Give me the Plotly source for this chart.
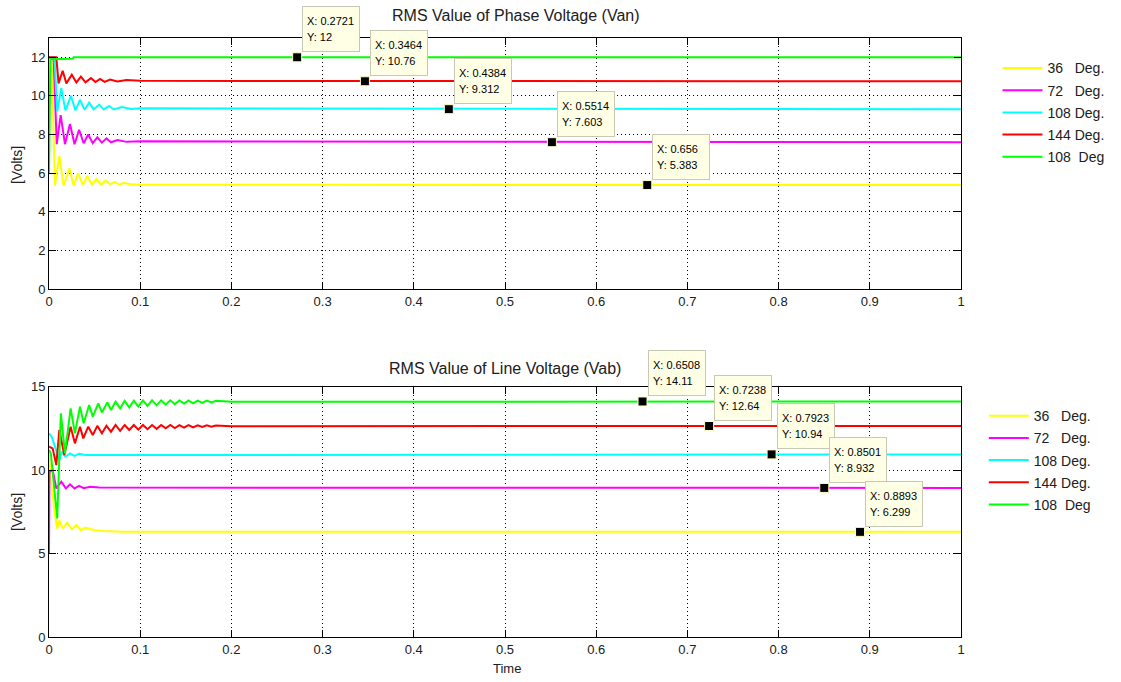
import plotly.graph_objects as go

FONT = "Liberation Sans, Arial, sans-serif"

# ---------------- data ----------------
series_names = ["36\u00a0\u00a0\u00a0Deg.", "72\u00a0\u00a0\u00a0Deg.", "108 Deg.", "144 Deg.", "108\u00a0\u00a0Deg"]
series_colors = ["#ffff00", "#ff00ff", "#00ffff", "#ff0000", "#00ff00"]

# Top: RMS phase voltage (Van)
van_t_36 = [0.0, 0.003, 0.0065, 0.0113, 0.016, 0.0223, 0.027, 0.032, 0.037, 0.042, 0.047, 0.052, 0.057, 0.062, 0.067, 0.072, 0.077, 0.082, 0.09, 0.1, 1.0]
van_v_36 = [12.0, 12.0, 5.35, 6.9, 5.35, 6.25, 5.35, 6.0, 5.38, 5.85, 5.4, 5.7, 5.4, 5.62, 5.42, 5.55, 5.4, 5.5, 5.42, 5.4, 5.383]
van_t_72 = [0.0, 0.005, 0.0085, 0.0128, 0.0175, 0.023, 0.028, 0.033, 0.038, 0.043, 0.048, 0.053, 0.058, 0.063, 0.068, 0.075, 0.085, 0.1, 1.0]
van_v_72 = [12.0, 12.0, 7.5, 9.0, 7.5, 8.55, 7.5, 8.25, 7.55, 8.0, 7.55, 7.85, 7.58, 7.8, 7.6, 7.72, 7.62, 7.65, 7.603]
van_t_108 = [0.0, 0.006, 0.009, 0.0135, 0.018, 0.024, 0.029, 0.034, 0.039, 0.044, 0.049, 0.055, 0.06, 0.066, 0.071, 0.08, 0.09, 0.1, 1.0]
van_v_108 = [12.0, 12.0, 9.2, 10.4, 9.25, 10.0, 9.25, 9.8, 9.28, 9.65, 9.3, 9.55, 9.3, 9.48, 9.3, 9.42, 9.32, 9.36, 9.312]
van_t_144 = [0.0, 0.008, 0.0105, 0.015, 0.019, 0.025, 0.03, 0.035, 0.04, 0.046, 0.051, 0.056, 0.061, 0.067, 0.075, 0.085, 0.1, 1.0]
van_v_144 = [12.0, 12.0, 10.65, 11.3, 10.65, 11.1, 10.7, 11.0, 10.7, 10.92, 10.72, 10.88, 10.73, 10.85, 10.75, 10.82, 10.78, 10.76]
van_t_108b = [0.0, 0.0015, 0.026, 0.027, 1.0]
van_v_108b = [5.95, 11.9, 11.92, 12.0, 12.0]

# Bottom: RMS line voltage (Vab)
vab_t_36 = [0.0, 0.002, 0.006, 0.009, 0.0113, 0.015, 0.02, 0.025, 0.03, 0.035, 0.04, 0.05, 0.06, 0.08, 1.0]
vab_v_36 = [11.0, 9.5, 7.5, 6.5, 7.0, 6.5, 6.85, 6.45, 6.7, 6.4, 6.55, 6.4, 6.35, 6.3, 6.299]
vab_t_72 = [0.0, 0.0005, 0.004, 0.008, 0.0135, 0.0185, 0.023, 0.028, 0.033, 0.038, 0.045, 0.055, 1.0]
vab_v_72 = [5.0, 9.9, 10.0, 8.9, 9.3, 8.9, 9.15, 8.9, 9.05, 8.92, 9.0, 8.95, 8.932]
vab_t_108 = [0.0, 0.003, 0.0113, 0.0139, 0.018, 0.023, 0.028, 0.033, 0.04, 1.0]
vab_v_108 = [12.2, 12.0, 10.6, 11.1, 10.8, 11.0, 10.85, 10.98, 10.9, 10.94]
vab_t_144 = [0.0, 0.004, 0.008, 0.0113, 0.0168, 0.0237, 0.0284, 0.034, 0.0376, 0.043, 0.048, 0.053, 0.058, 0.063, 0.068, 0.073, 0.078, 0.083, 0.088, 0.093, 0.098, 0.103, 0.108, 0.113, 0.118, 0.123, 0.128, 0.133, 0.138, 0.143, 0.148, 0.153, 0.158, 0.163, 0.168, 0.173, 0.178, 0.183, 0.2, 1.0]
vab_v_144 = [11.4, 11.3, 10.3, 12.4, 10.9, 12.6, 11.6, 12.6, 11.9, 12.6, 12.1, 12.65, 12.2, 12.65, 12.3, 12.7, 12.35, 12.7, 12.4, 12.7, 12.42, 12.7, 12.45, 12.7, 12.47, 12.7, 12.5, 12.7, 12.52, 12.69, 12.54, 12.69, 12.56, 12.68, 12.58, 12.68, 12.6, 12.67, 12.63, 12.64]
vab_t_108b = [0.0, 0.002, 0.009, 0.013, 0.0175, 0.0237, 0.0284, 0.034, 0.038, 0.044, 0.048, 0.054, 0.058, 0.064, 0.068, 0.073, 0.078, 0.083, 0.088, 0.093, 0.098, 0.103, 0.108, 0.113, 0.118, 0.123, 0.128, 0.133, 0.138, 0.143, 0.148, 0.153, 0.158, 0.163, 0.168, 0.173, 0.178, 0.183, 0.2, 1.0]
vab_v_108b = [11.2, 11.0, 7.1, 13.4, 11.0, 13.7, 12.2, 13.8, 12.8, 13.9, 13.2, 14.0, 13.45, 14.05, 13.6, 14.1, 13.7, 14.15, 13.75, 14.15, 13.8, 14.18, 13.85, 14.18, 13.88, 14.18, 13.92, 14.18, 13.95, 14.17, 13.98, 14.17, 14.0, 14.16, 14.03, 14.16, 14.05, 14.15, 14.09, 14.11]

van_t = [van_t_36, van_t_72, van_t_108, van_t_144, van_t_108b]
van_v = [van_v_36, van_v_72, van_v_108, van_v_144, van_v_108b]
vab_t = [vab_t_36, vab_t_72, vab_t_108, vab_t_144, vab_t_108b]
vab_v = [vab_v_36, vab_v_72, vab_v_108, vab_v_144, vab_v_108b]

# data tips
tip_top_x = [0.2721, 0.3464, 0.4384, 0.5514, 0.656]
tip_top_y = [12, 10.76, 9.312, 7.603, 5.383]
tip_top_xlabel = ["0.2721", "0.3464", "0.4384", "0.5514", "0.656"]
tip_top_ylabel = ["12", "10.76", "9.312", "7.603", "5.383"]
tip_bot_x = [0.6508, 0.7238, 0.7923, 0.8501, 0.8893]
tip_bot_y = [14.11, 12.64, 10.94, 8.932, 6.299]
tip_bot_xlabel = ["0.6508", "0.7238", "0.7923", "0.8501", "0.8893"]
tip_bot_ylabel = ["14.11", "12.64", "10.94", "8.932", "6.299"]

x_tick_vals = [0, 0.1, 0.2, 0.3, 0.4, 0.5, 0.6, 0.7, 0.8, 0.9, 1]
x_tick_text = ["0", "0.1", "0.2", "0.3", "0.4", "0.5", "0.6", "0.7", "0.8", "0.9", "1"]
top_y_ticks = [0, 2, 4, 6, 8, 10, 12]
bot_y_ticks = [0, 5, 10, 15]

# ---------------- figure ----------------
fig = go.Figure()

for i in range(5):
    fig.add_trace(go.Scatter(x=van_t[i], y=van_v[i], mode="lines", name=series_names[i],
                             line=dict(color=series_colors[i], width=2),
                             xaxis="x", yaxis="y", legend="legend", legendgroup="a%d" % i))
for i in range(5):
    fig.add_trace(go.Scatter(x=vab_t[i], y=vab_v[i], mode="lines", name=series_names[i],
                             line=dict(color=series_colors[i], width=2),
                             xaxis="x2", yaxis="y2", legend="legend2", legendgroup="b%d" % i))

marker_style = dict(symbol="square", size=9, color="black", line=dict(color="#ffffc8", width=1))
fig.add_trace(go.Scatter(x=tip_top_x, y=tip_top_y, mode="markers", marker=marker_style,
                         showlegend=False, xaxis="x", yaxis="y", hoverinfo="skip"))
fig.add_trace(go.Scatter(x=tip_bot_x, y=tip_bot_y, mode="markers", marker=marker_style,
                         showlegend=False, xaxis="x2", yaxis="y2", hoverinfo="skip"))

annotations = []

def add_tips(xs, ys, xl, yl, xref, yref):
    for x, y, a, b in zip(xs, ys, xl, yl):
        annotations.append(dict(x=x, y=y, xref=xref, yref=yref, text=" ", showarrow=False,
                                xanchor="left", yanchor="bottom", xshift=5, yshift=5,
                                width=56, height=44, borderpad=0, borderwidth=1,
                                bgcolor="#ffffe6", bordercolor="#c8c8b4"))
        annotations.append(dict(x=x, y=y, xref=xref, yref=yref, text="X: " + a, showarrow=False,
                                xanchor="left", yanchor="middle", xshift=8, yshift=36,
                                font=dict(family=FONT, size=11, color="black")))
        annotations.append(dict(x=x, y=y, xref=xref, yref=yref, text="Y: " + b, showarrow=False,
                                xanchor="left", yanchor="middle", xshift=8, yshift=20,
                                font=dict(family=FONT, size=11, color="black")))

add_tips(tip_top_x, tip_top_y, tip_top_xlabel, tip_top_ylabel, "x", "y")
add_tips(tip_bot_x, tip_bot_y, tip_bot_xlabel, tip_bot_ylabel, "x2", "y2")

title_font = dict(family=FONT, size=16, color="#202020")
label_font = dict(family=FONT, size=14, color="#202020")
annotations += [
    dict(text="RMS Value of Phase Voltage (Van)", x=0.512, y=1.038, xref="paper", yref="paper",
         showarrow=False, xanchor="center", yanchor="middle", font=title_font),
    dict(text="RMS Value of Line Voltage (Vab)", x=0.4995, y=0.449, xref="paper", yref="paper",
         showarrow=False, xanchor="center", yanchor="middle", font=title_font),
    dict(text="[Volts]", x=-0.035, y=(637 - 165) / 599, xref="paper", yref="paper", textangle=-90,
         showarrow=False, xanchor="center", yanchor="middle", font=label_font),
    dict(text="[Volts]", x=-0.035, y=(637 - 512) / 599, xref="paper", yref="paper", textangle=-90,
         showarrow=False, xanchor="center", yanchor="middle", font=label_font),
    dict(text="Time", x=0.502, y=-0.052, xref="paper", yref="paper",
         showarrow=False, xanchor="center", yanchor="middle", font=dict(family=FONT, size=13, color="#202020")),
]

tick_font = dict(family=FONT, size=13, color="#202020")
common_x = dict(range=[0, 1], tickvals=x_tick_vals, ticktext=x_tick_text, ticks="inside", ticklen=7,
                tickcolor="black", showline=True, linecolor="black", linewidth=1, mirror="ticks",
                showgrid=True, gridcolor="black", griddash="1px,3px", gridwidth=1, zeroline=False,
                tickfont=tick_font)
common_y = dict(ticks="inside", ticklen=7, tickcolor="black", showline=True, linecolor="black",
                linewidth=1, mirror="ticks", showgrid=True, gridcolor="black", griddash="1px,3px",
                gridwidth=1, zeroline=False, tickfont=tick_font)

legend_font = dict(family=FONT, size=14, color="#202020")

fig.update_layout(
    width=1121, height=682,
    margin=dict(l=49, r=158, t=38, b=45),
    paper_bgcolor="white", plot_bgcolor="white",
    xaxis=dict(domain=[0, 1], anchor="y", **common_x),
    yaxis=dict(domain=[0.581, 1], anchor="x", range=[0, 13], tickvals=top_y_ticks, **common_y),
    xaxis2=dict(domain=[0, 1], anchor="y2", **common_x),
    yaxis2=dict(domain=[0, 0.418], anchor="x2", range=[0, 15], tickvals=bot_y_ticks, **common_y),
    legend=dict(x=1.04, y=0.976, xanchor="left", yanchor="top", font=legend_font,
                bgcolor="rgba(0,0,0,0)", tracegroupgap=1, itemwidth=40),
    legend2=dict(x=1.025, y=0.3955, xanchor="left", yanchor="top", font=legend_font,
                 bgcolor="rgba(0,0,0,0)", tracegroupgap=1, itemwidth=40),
    annotations=annotations,
    showlegend=True,
)

fig.write_html("out.html")
